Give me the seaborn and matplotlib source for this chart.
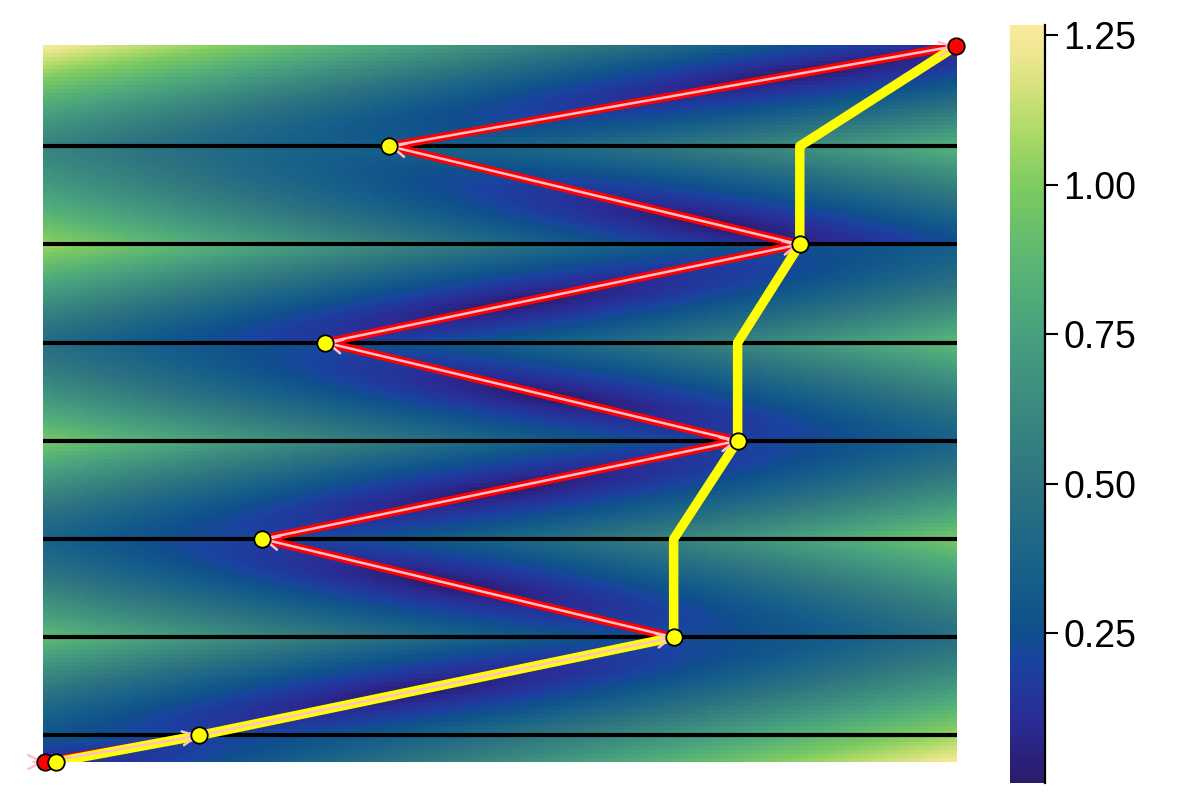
import numpy as np
import matplotlib
matplotlib.use("Agg")
import matplotlib.pyplot as plt
import seaborn as sns
from matplotlib.colors import LinearSegmentedColormap

# ---------------- data ----------------
# x runs 0..10 across the field, y is depth with layer interfaces at 0..6
interface_y = [0, 1, 2, 3, 4, 5, 6]

# zig-zag ray (red line with pink arrows)
ray_x = [0.02, 1.71, 6.90, 2.40, 7.60, 3.09, 8.28, 3.79, 9.99]
ray_y = [-0.27, 0.0, 1.0, 2.0, 3.0, 4.0, 5.0, 6.0, 7.02]

# yellow path
path_x = [0.14, 1.71, 6.90, 6.90, 7.60, 7.60, 8.28, 8.28, 9.99]
path_y = [-0.27, 0.0, 1.0, 2.0, 3.0, 4.0, 5.0, 6.0, 7.02]

# yellow markers (path vertices) and red end points
yellow_x = [0.14, 1.71, 6.90, 2.40, 7.60, 3.09, 8.28, 3.79]
yellow_y = [-0.27, 0.0, 1.0, 2.0, 3.0, 4.0, 5.0, 6.0]
red_x = [0.02, 9.99]
red_y = [-0.27, 7.02]

# depth of the darkest spot along the ray inside each layer (layers -1..0, 0..1, ..., 6..7)
layer_bottom = [-1, 0, 1, 2, 3, 4, 5, 6]
dark_center_y = [-0.50, 0.45, 1.55, 2.50, 3.45, 4.40, 5.20, 6.75]

cbar_ticks = [0.25, 0.50, 0.75, 1.00, 1.25]
cbar_labels = ["0.25", "0.50", "0.75", "1.00", "1.25"]

cmap_values = [0.0, 0.10, 0.20, 0.25, 0.35, 0.50, 0.60, 0.75, 0.85, 1.00, 1.10, 1.20, 1.267]
cmap_colors = ["#2b1a6a", "#2a2c96", "#1a42a0", "#0f4f8c", "#166089", "#2d7480",
               "#37857f", "#47a07e", "#56b276", "#7ecb61", "#b3db69", "#e6e58a", "#fbea9c"]

cost_across = 0.125     # value per unit horizontal offset from the ray
cost_along = 0.45       # value per unit depth away from the dark spot, along the ray
X_MIN, X_MAX = 0.0, 10.0
Y_MIN, Y_MAX = -0.27, 7.03
V_MIN, V_MAX = 0.0, 1.267

# ---------------- field ----------------
NX, NY = 240, 180
xc = X_MIN + (np.arange(NX) + 0.5) * (X_MAX - X_MIN) / NX
yc = Y_MAX - (np.arange(NY) + 0.5) * (Y_MAX - Y_MIN) / NY      # top row first
ray_at_y = np.interp(yc, ray_y, ray_x)
layer_idx = np.searchsorted(layer_bottom, yc, side="right") - 1
center_at_y = np.asarray(dark_center_y)[layer_idx]
across = cost_across * (xc[None, :] - ray_at_y[:, None])
along = cost_along * (yc - center_at_y)[:, None]
field = np.sqrt(across ** 2 + along ** 2)


def cx(x):
    return (np.asarray(x, dtype=float) - X_MIN) / (X_MAX - X_MIN) * NX


def cy(y):
    return (Y_MAX - np.asarray(y, dtype=float)) / (Y_MAX - Y_MIN) * NY


plt.rcParams["font.family"] = ["Liberation Sans", "DejaVu Sans"]

cmap = LinearSegmentedColormap.from_list(
    "haline_like", list(zip(np.array(cmap_values) / V_MAX, cmap_colors)))

fig = plt.figure(figsize=(12, 8), dpi=100)
ax = fig.add_axes([43 / 1200, 1 - 762 / 800, 914 / 1200, 717 / 800])
cax = fig.add_axes([1010 / 1200, 1 - 783 / 800, 35 / 1200, 758 / 800])

sns.heatmap(field, ax=ax, cbar_ax=cax, cmap=cmap, vmin=V_MIN, vmax=V_MAX,
            xticklabels=False, yticklabels=False)

# layer interfaces
for yv in interface_y:
    ax.plot([0, NX], [cy(yv), cy(yv)], color="black", linewidth=3.0, zorder=2,
            solid_capstyle="butt")

# red ray
sns.lineplot(x=cx(ray_x), y=cy(ray_y), ax=ax, sort=False, estimator=None,
             color="red", linewidth=6.0, zorder=3)
# yellow path
sns.lineplot(x=cx(path_x), y=cy(path_y), ax=ax, sort=False, estimator=None,
             color="#ffff00", linewidth=6.8, zorder=4)

# pink arrows along the ray
arrow_kw = dict(arrowstyle="->,head_length=1.0,head_width=0.5", color="pink",
                lw=1.8, shrinkA=0, shrinkB=0)
ax.annotate("", xy=(cx(ray_x[0]), cy(ray_y[0])),
            xytext=(cx(ray_x[0]) - 3, cy(ray_y[0])), arrowprops=arrow_kw,
            annotation_clip=False, zorder=5)
for i in range(len(ray_x) - 1):
    ax.annotate("", xy=(cx(ray_x[i + 1]), cy(ray_y[i + 1])),
                xytext=(cx(ray_x[i]), cy(ray_y[i])), arrowprops=arrow_kw,
                annotation_clip=False, zorder=5)

# markers
sns.scatterplot(x=cx(red_x), y=cy(red_y), ax=ax, color="red", edgecolor="black",
                linewidth=1.3, s=140, zorder=6, clip_on=False, legend=False)
sns.scatterplot(x=cx(yellow_x), y=cy(yellow_y), ax=ax, color="#ffff00",
                edgecolor="black", linewidth=1.3, s=140, zorder=7, clip_on=False,
                legend=False)

ax.set_xlim(0, NX)
ax.set_ylim(NY, 0)
ax.set_xlabel("")
ax.set_ylabel("")
for s in ax.spines.values():
    s.set_visible(False)

# colorbar styling
cbar = ax.collections[0].colorbar
cbar.set_ticks(cbar_ticks)
cbar.set_ticklabels(cbar_labels)
cbar.outline.set_visible(False)
cax.tick_params(labelsize=27, length=9, width=1.5, direction="out", pad=4,
                colors="black", right=True, left=False)
cax.plot([1, 1], [0, 1], transform=cax.transAxes, color="black", lw=1.6,
         clip_on=False)

fig.savefig("out.png", dpi=100)
